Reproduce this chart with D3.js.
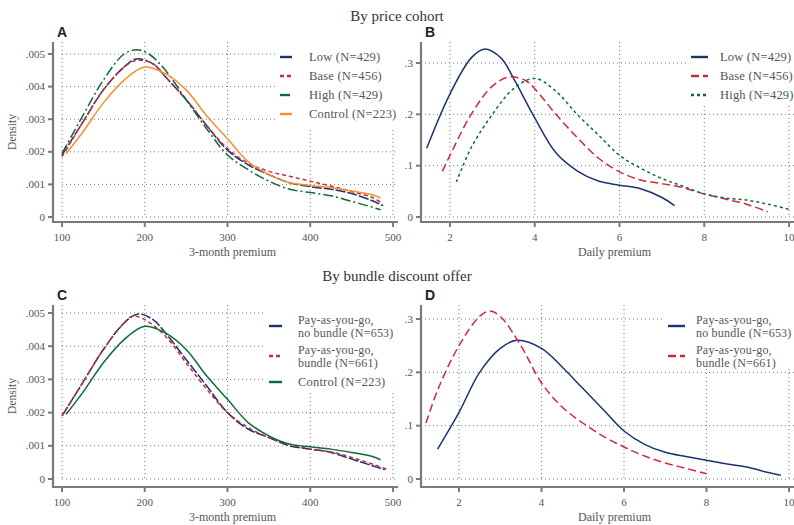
<!DOCTYPE html>
<html>
<head>
<meta charset="utf-8">
<script src="https://cdn.jsdelivr.net/npm/d3@7"></script>
<style>
  body { margin: 0; background: #fff; }
  text { font-family: "Liberation Serif", "Times New Roman", serif; }
</style>
</head>
<body>
<svg width="794" height="525"></svg>
<script>
// density estimates, [premium, density]
var aLow = [[100,.0019],[125,.0029],[150,.0039],[175,.0046],[190,.00485],[210,.0047],[225,.0043],[250,.0036],[275,.0028],[300,.00205],[325,.0016],[350,.0013],[375,.00105],[400,.00093],[425,.00085],[450,.00072],[475,.0005],[488,.00035]];
var aBase = [[100,.00185],[125,.0029],[150,.0039],[175,.0046],[190,.0048],[210,.0047],[225,.0043],[250,.0036],[275,.0028],[300,.0021],[325,.00165],[350,.0014],[375,.00125],[400,.0011],[425,.00095],[450,.00078],[475,.0006],[488,.0004]];
var aHigh = [[100,.00195],[125,.0031],[150,.0042],[175,.0050],[190,.00513],[205,.0050],[225,.0045],[250,.0036],[275,.0027],[300,.0019],[325,.00145],[350,.0011],[375,.00085],[400,.00075],[425,.00065],[450,.00048],[475,.0003],[485,.00022]];
var aControl = [[105,.00195],[125,.0026],[150,.0035],[175,.0042],[200,.0046],[225,.0044],[250,.0039],[275,.0031],[300,.0024],[325,.0017],[350,.0013],[375,.00105],[400,.00097],[425,.0009],[450,.0008],[475,.00068],[485,.00058]];

var bLow = [[1.45,.134],[2,.24],[2.5,.31],[2.8,.327],[3.2,.31],[3.5,.27],[4,.193],[4.5,.125],[5,.09],[5.5,.07],[6,.062],[6.5,.055],[7,.038],[7.3,.022]];
var bBase = [[1.82,.089],[2,.12],[2.5,.2],[3,.255],[3.4,.273],[3.8,.265],[4,.25],[4.5,.2],[5,.155],[5.5,.115],[6,.088],[6.5,.072],[7,.065],[7.5,.057],[8,.045],[8.5,.035],[9,.025],[9.5,.01]];
var bHigh = [[2.15,.068],[2.5,.135],[3,.2],[3.5,.25],[4,.27],[4.5,.245],[5,.2],[5.5,.16],[6,.12],[6.5,.095],[7,.075],[7.5,.06],[8,.045],[8.5,.037],[9,.033],[9.5,.025],[10,.015]];

var cNoBundle = [[100,.0019],[125,.0029],[150,.0039],[175,.0047],[192,.00497],[210,.0048],[225,.0044],[250,.0036],[275,.0028],[300,.002],[325,.0015],[350,.00125],[375,.001],[400,.0009],[425,.0008],[450,.0006],[475,.0004],[490,.00028]];
var cBundle = [[100,.0019],[125,.0029],[150,.0039],[175,.0047],[185,.0049],[200,.0048],[225,.0043],[250,.0035],[275,.0027],[300,.002],[325,.00155],[350,.00125],[375,.00105],[400,.0009],[425,.00082],[450,.00065],[475,.00045],[492,.0003]];
var cControl = aControl;

var dNoBundle = [[1.48,.056],[2,.125],[2.5,.2],[3,.245],[3.4,.26],[4,.245],[4.5,.21],[5,.17],[5.5,.13],[6,.09],[6.5,.065],[7,.05],[7.5,.042],[8,.035],[8.5,.028],[9,.022],[9.5,.012],[9.8,.007]];
var dBundle = [[1.2,.105],[1.5,.17],[2,.25],[2.5,.305],[2.75,.315],[3,.305],[3.5,.25],[4,.18],[4.5,.135],[5,.105],[5.5,.08],[6,.06],[6.5,.043],[7,.03],[7.5,.02],[8,.01]];

var premiumTicks = [100, 200, 300, 400, 500];
var dailyTicks = [2, 4, 6, 8, 10];
var density3mTicks = [0, .001, .002, .003, .004, .005];
var densityDayTicks = [0, .1, .2, .3];

var navy = "#1b3470", red = "#cc2a3c", green = "#0f6a3a", orange = "#f5902e";

var svg = d3.select("svg");

svg.append("text").attr("x", 397).attr("y", 21).attr("text-anchor", "middle")
  .attr("font-size", 15).attr("fill", "#333").text("By price cohort");
svg.append("text").attr("x", 397).attr("y", 281).attr("text-anchor", "middle")
  .attr("font-size", 15).attr("fill", "#333").text("By bundle discount offer");

var panels = [
  {letter: "A", xr: [62, 393], yr: [217, 54], xd: [100, 500], yd: [0, .005],
   xt: premiumTicks, yt: density3mTicks, xlab: "3-month premium", ylab: true,
   axisL: 53, axisB: 222, axisT: 42, axisR: 398, gx0: 62, gx1: 397,
   box: [278, 42, 120, 86], legX: 280, legLen: 12, textX: 309,
   series: [
     {d: aLow, c: navy, dash: "10,2", label: ["Low (N=429)"], y: 57},
     {d: aBase, c: red, dash: "4,3", label: ["Base (N=456)"], y: 76},
     {d: aHigh, c: green, dash: "10,3,2,3", label: ["High (N=429)"], y: 95},
     {d: aControl, c: orange, dash: null, label: ["Control (N=223)"], y: 114}
   ]},
  {letter: "B", xr: [450, 789], yr: [217, 63], xd: [2, 10], yd: [0, .3],
   xt: dailyTicks, yt: densityDayTicks, xlab: "Daily premium", ylab: false,
   axisL: 421, axisB: 222, axisT: 42, axisR: 794, gx0: 425, gx1: 797,
   box: [687, 42, 110, 62], legX: 691, legLen: 17, textX: 720,
   series: [
     {d: bLow, c: navy, dash: null, label: ["Low (N=429)"], y: 57},
     {d: bBase, c: red, dash: "8,4", label: ["Base (N=456)"], y: 76},
     {d: bHigh, c: green, dash: "3,3", label: ["High (N=429)"], y: 95}
   ]},
  {letter: "C", xr: [62, 393], yr: [479, 313], xd: [100, 500], yd: [0, .005],
   xt: premiumTicks, yt: density3mTicks, xlab: "3-month premium", ylab: true,
   axisL: 53, axisB: 487, axisT: 305, axisR: 398, gx0: 62, gx1: 397,
   box: [265, 305, 133, 86], legX: 269, legLen: 13, textX: 298,
   series: [
     {d: cNoBundle, c: navy, dash: "10,2", label: ["Pay-as-you-go,", "no bundle (N=653)"], y: 326},
     {d: cBundle, c: red, dash: "4,3", label: ["Pay-as-you-go,", "bundle (N=661)"], y: 356},
     {d: cControl, c: green, dash: null, label: ["Control (N=223)"], y: 382}
   ]},
  {letter: "D", xr: [459, 789], yr: [479, 319], xd: [2, 10], yd: [0, .3],
   xt: dailyTicks, yt: densityDayTicks, xlab: "Daily premium", ylab: false,
   axisL: 421, axisB: 487, axisT: 305, axisR: 794, gx0: 425, gx1: 797,
   box: [663, 305, 135, 62], legX: 668, legLen: 17, textX: 696,
   series: [
     {d: dNoBundle, c: navy, dash: null, label: ["Pay-as-you-go,", "no bundle (N=653)"], y: 326},
     {d: dBundle, c: red, dash: "8,4", label: ["Pay-as-you-go,", "bundle (N=661)"], y: 356}
   ]}
];

function fmtDensity(v) {
  if (v === 0) return "0";
  return d3.format(v < .01 ? ".3f" : ".1f")(v).replace(/^0/, "");
}

panels.forEach(function(p) {
  var x = d3.scaleLinear().domain(p.xd).range(p.xr);
  var y = d3.scaleLinear().domain(p.yd).range(p.yr);
  var g = svg.append("g");

  // dotted grid
  g.selectAll(".vg").data(p.xt).enter().append("line")
    .attr("x1", function(d) { return x(d); }).attr("x2", function(d) { return x(d); })
    .attr("y1", p.axisT).attr("y2", y(0))
    .attr("stroke", "#777").attr("stroke-width", 1).attr("stroke-dasharray", "1,3");
  g.selectAll(".hg").data(p.yt).enter().append("line")
    .attr("x1", p.gx0).attr("x2", p.gx1)
    .attr("y1", function(d) { return y(d); }).attr("y2", function(d) { return y(d); })
    .attr("stroke", "#777").attr("stroke-width", 1).attr("stroke-dasharray", "1,3");

  // curves
  var line = d3.line()
    .x(function(d) { return x(d[0]); })
    .y(function(d) { return y(d[1]); })
    .curve(d3.curveCatmullRom.alpha(0.5));
  p.series.forEach(function(s) {
    g.append("path").datum(s.d).attr("d", line)
      .attr("fill", "none").attr("stroke", s.c).attr("stroke-width", 1.5)
      .attr("stroke-dasharray", s.dash);
  });

  // axes (offset from the data region)
  var axisCol = "#7a7a80";
  g.append("line").attr("x1", p.axisL).attr("x2", p.axisL).attr("y1", p.axisT).attr("y2", p.axisB + 1)
    .attr("stroke", axisCol).attr("stroke-width", 2.2);
  g.append("line").attr("x1", p.axisL - 1).attr("x2", p.axisR).attr("y1", p.axisB).attr("y2", p.axisB)
    .attr("stroke", axisCol).attr("stroke-width", 2.2);
  g.selectAll(".yt").data(p.yt).enter().append("line")
    .attr("x1", p.axisL - 5).attr("x2", p.axisL)
    .attr("y1", function(d) { return y(d); }).attr("y2", function(d) { return y(d); })
    .attr("stroke", axisCol).attr("stroke-width", 2);
  g.selectAll(".xt").data(p.xt).enter().append("line")
    .attr("x1", function(d) { return x(d); }).attr("x2", function(d) { return x(d); })
    .attr("y1", p.axisB).attr("y2", p.axisB + 5)
    .attr("stroke", axisCol).attr("stroke-width", 2);

  g.selectAll(".ytl").data(p.yt).enter().append("text")
    .attr("x", p.axisL - 8).attr("y", function(d) { return y(d); }).attr("dy", "0.33em")
    .attr("text-anchor", "end").attr("font-size", 11).attr("fill", "#555")
    .text(fmtDensity);
  g.selectAll(".xtl").data(p.xt).enter().append("text")
    .attr("x", function(d) { return x(d); }).attr("y", p.axisB + 19)
    .attr("text-anchor", "middle").attr("font-size", 11).attr("fill", "#555")
    .text(function(d) { return d; });

  g.append("text").attr("x", (p.axisL + Math.min(p.axisR, 794)) / 2 + 7).attr("y", p.axisB + 34)
    .attr("text-anchor", "middle").attr("font-size", 12).attr("fill", "#555").text(p.xlab);
  if (p.ylab) {
    var cy = (p.axisT + p.axisB) / 2;
    g.append("text").attr("transform", "translate(16," + cy + ") rotate(-90)")
      .attr("text-anchor", "middle").attr("font-size", 11.5).attr("fill", "#555").text("Density");
  }

  // panel letter
  g.append("text").attr("x", p.axisL + 4).attr("y", p.axisT - 5)
    .style("font-family", "'Liberation Sans', Arial, sans-serif").attr("font-weight", "bold")
    .attr("font-size", 14).attr("fill", "#222").text(p.letter);

  // legend
  g.append("rect").attr("x", p.box[0]).attr("y", p.box[1]).attr("width", p.box[2]).attr("height", p.box[3])
    .attr("fill", "#fff");
  p.series.forEach(function(s) {
    g.append("line").attr("x1", p.legX).attr("x2", p.legX + p.legLen)
      .attr("y1", s.y).attr("y2", s.y)
      .attr("stroke", s.c).attr("stroke-width", 2.4)
      .attr("stroke-dasharray", s.dash ? (s.dash === "10,2" ? null : s.dash) : null);
    var t = g.append("text").attr("x", p.textX).attr("font-size", s.label.length > 1 ? 12 : 12.5)
      .attr("letter-spacing", 0.2).attr("fill", "#555");
    if (s.label.length === 1) {
      t.attr("y", s.y).attr("dy", "0.33em").text(s.label[0]);
    } else {
      s.label.forEach(function(l, i) {
        t.append("tspan").attr("x", p.textX).attr("y", s.y - 6.5 + i * 13 + 4).text(l);
      });
    }
  });
});
</script>
</body>
</html>
